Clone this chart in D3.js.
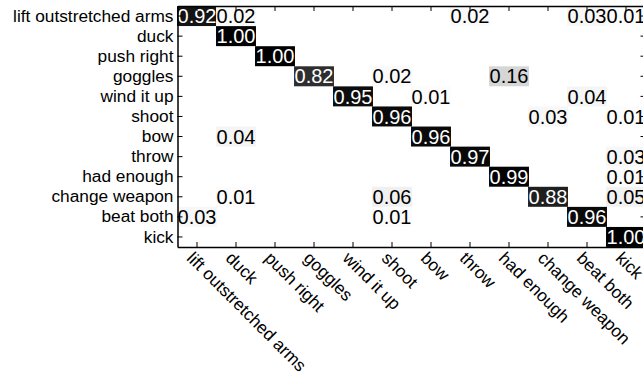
<!DOCTYPE html>
<html>
<head>
<meta charset="utf-8">
<script src="https://d3js.org/d3.v7.min.js"></script>
<style>
  body { margin: 0; background: #fff; }
  svg { display: block; }
  text { font-family: "Liberation Sans", Arial, Helvetica, sans-serif; }
</style>
</head>
<body>
<div id="chart"></div>
<script>
// class names (rows = actual, cols = predicted)
var classes = ["lift outstretched arms", "duck", "push right", "goggles", "wind it up", "shoot",
               "bow", "throw", "had enough", "change weapon", "beat both", "kick"];

// one row per class, zeros are not printed
var rowLift    = [0.92, 0.02, 0, 0, 0, 0, 0, 0.02, 0, 0, 0.03, 0.01];
var rowDuck    = [0, 1.00, 0, 0, 0, 0, 0, 0, 0, 0, 0, 0];
var rowPush    = [0, 0, 1.00, 0, 0, 0, 0, 0, 0, 0, 0, 0];
var rowGoggles = [0, 0, 0, 0.82, 0, 0.02, 0, 0, 0.16, 0, 0, 0];
var rowWind    = [0, 0, 0, 0, 0.95, 0, 0.01, 0, 0, 0, 0.04, 0];
var rowShoot   = [0, 0, 0, 0, 0, 0.96, 0, 0, 0, 0.03, 0, 0.01];
var rowBow     = [0, 0.04, 0, 0, 0, 0, 0.96, 0, 0, 0, 0, 0];
var rowThrow   = [0, 0, 0, 0, 0, 0, 0, 0.97, 0, 0, 0, 0.03];
var rowEnough  = [0, 0, 0, 0, 0, 0, 0, 0, 0.99, 0, 0, 0.01];
var rowChange  = [0, 0.01, 0, 0, 0, 0.06, 0, 0, 0, 0.88, 0, 0.05];
var rowBeat    = [0.03, 0, 0, 0, 0, 0.01, 0, 0, 0, 0, 0.96, 0];
var rowKick    = [0, 0, 0, 0, 0, 0, 0, 0, 0, 0, 0, 1.00];

var matrix = [rowLift, rowDuck, rowPush, rowGoggles, rowWind, rowShoot,
              rowBow, rowThrow, rowEnough, rowChange, rowBeat, rowKick];

var w = 643, h = 374
    , marginLeft = 177.5, plotRight = 645.5, marginTop = 6, plotBottom = 247;

var cells = [];
matrix.forEach(function(row, r) {
  row.forEach(function(v, c) {
    if (v > 0) cells.push({row: classes[r], col: classes[c], value: v});
  });
});

var svg = d3.select("div#chart")
    .append("svg")
    .attr("width", w)
    .attr("height", h);

var xScale = d3.scaleBand().domain(classes).range([marginLeft, plotRight]);
var yScale = d3.scaleBand().domain(classes).range([marginTop, plotBottom]);
var shade = d3.scaleLinear().domain([0, 1]).range(["#ffffff", "#000000"]);

// cells: text with its own background box, like matlab
var cellG = svg.append("g").attr("class", "cells");
var cell = cellG.selectAll("g")
    .data(cells)
    .enter()
    .append("g")
    .attr("transform", function(d) {
      return "translate(" + (xScale(d.col) + xScale.bandwidth() / 2) + "," + (yScale(d.row) + yScale.bandwidth() / 2) + ")";
    });

cell.append("rect");
cell.append("text")
    .attr("text-anchor", "middle")
    .attr("dy", "0.36em")
    .style("font-size", "20px")
    .attr("fill", function(d) { return d.value > 0.5 ? "#fff" : "#000"; })
    .text(function(d) { return d.value.toFixed(2); });

cell.each(function(d) {
  var g = d3.select(this);
  var len = g.select("text").node().getComputedTextLength() + 1;
  g.select("rect")
      .attr("x", -len / 2)
      .attr("y", -10)
      .attr("width", len)
      .attr("height", 20)
      .attr("fill", shade(d.value));
});

// axes box
var xAxis = d3.axisBottom(xScale).tickSize(-5).tickSizeOuter(0).tickFormat("");
var xAxisTop = d3.axisTop(xScale).tickSize(-5).tickSizeOuter(0).tickFormat("");
var yAxis = d3.axisLeft(yScale).tickSize(-5).tickSizeOuter(0).tickPadding(4);
var yAxisRight = d3.axisRight(yScale).tickSize(-5).tickSizeOuter(0).tickFormat("");

svg.append("g").attr("class", "x axis")
    .attr("transform", "translate(0," + plotBottom + ")")
    .call(xAxis);
svg.append("g").attr("class", "x axis top")
    .attr("transform", "translate(0," + marginTop + ")")
    .call(xAxisTop);
svg.append("g").attr("class", "y axis")
    .attr("transform", "translate(" + marginLeft + ",0)")
    .call(yAxis);
svg.append("g").attr("class", "y axis right")
    .attr("transform", "translate(" + plotRight + ",0)")
    .call(yAxisRight);

svg.selectAll(".axis path.domain").attr("stroke", "#000").attr("stroke-width", 1.5);
svg.selectAll(".axis .tick line").attr("stroke", "#000").attr("stroke-width", 1);
svg.selectAll(".y.axis .tick text")
    .style("font-size", "17.3px")
    .style("font-family", "'Liberation Sans', Arial, sans-serif")
    .attr("fill", "#000");

// rotated x labels
svg.append("g").attr("class", "x labels")
    .selectAll("text")
    .data(classes)
    .enter()
    .append("text")
    .attr("transform", function(d) {
      return "translate(" + (xScale(d) + xScale.bandwidth() / 2 - 2) + "," + (plotBottom + 3) + ") rotate(45)";
    })
    .attr("dy", "0.75em")
    .style("font-size", "17.3px")
    .attr("fill", "#000")
    .text(function(d) { return d; });
</script>
</body>
</html>
